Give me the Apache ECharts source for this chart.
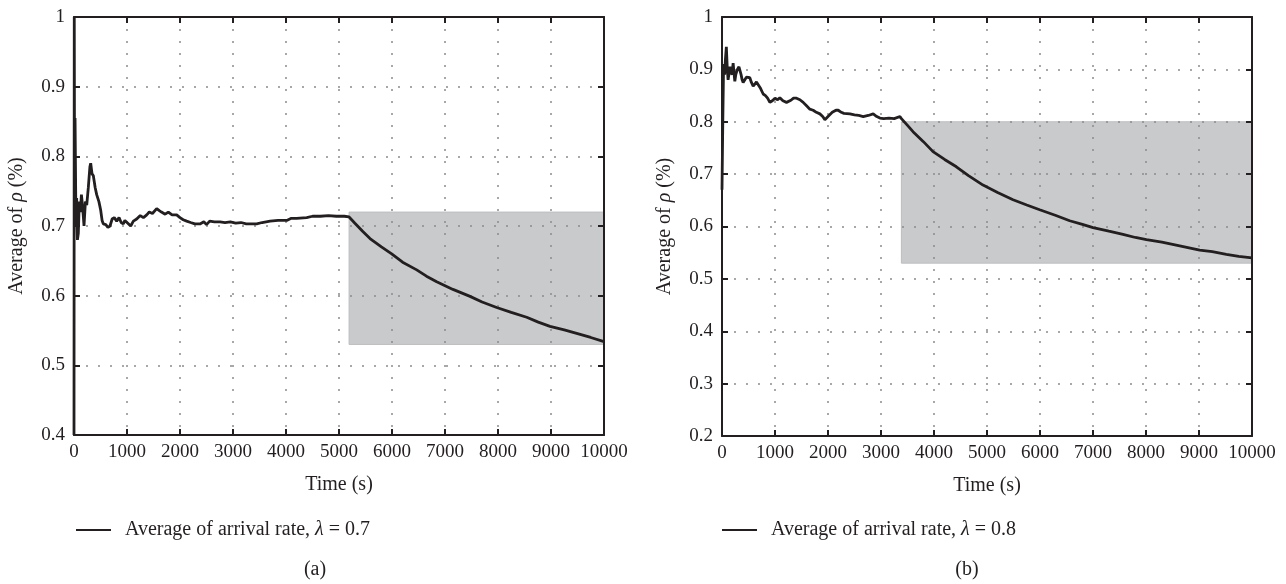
<!DOCTYPE html>
<html>
<head>
<meta charset="utf-8">
<script src="https://cdn.jsdelivr.net/npm/echarts@6/dist/echarts.min.js"></script>
<style>
html,body{margin:0;padding:0;background:#fff;}
#main{width:1286px;height:584px;}
</style>
</head>
<body>
<div id="main"></div>
<script>
// ---- Data ----
const xTicks = [0, 1000, 2000, 3000, 4000, 5000, 6000, 7000, 8000, 9000, 10000];
const yRangeA = [0.4, 1.0];
const yRangeB = [0.2, 1.0];
const nameA = 'Average of arrival rate, λ = 0.7';
const nameB = 'Average of arrival rate, λ = 0.8';
const panelLabels = ['(a)', '(b)'];

// time (s), average rho — panel (a)
const seriesA = [
  [0,0.40],[5,1.0],[12,0.70],[20,0.855],[35,0.72],[50,0.74],[65,0.68],[82,0.69],[100,0.735],[120,0.72],
  [140,0.745],[160,0.73],[189,0.70],[215,0.735],[240,0.73],[270,0.755],[300,0.785],[315,0.79],[340,0.775],
  [365,0.772],[400,0.755],[428,0.745],[470,0.735],[503,0.723],[530,0.708],[553,0.703],[600,0.702],[640,0.698],
  [679,0.70],[720,0.71],[760,0.712],[805,0.707],[850,0.712],[890,0.705],[930,0.703],[960,0.708],[994,0.707],
  [1030,0.703],[1070,0.70],[1120,0.707],[1183,0.71],[1250,0.715],[1310,0.712],[1372,0.716],[1420,0.72],
  [1480,0.718],[1560,0.725],[1610,0.722],[1650,0.72],[1686,0.72],[1720,0.717],[1780,0.72],[1850,0.716],
  [1937,0.716],[2000,0.712],[2060,0.709],[2126,0.707],[2200,0.705],[2280,0.703],[2377,0.703],[2450,0.706],
  [2500,0.702],[2560,0.707],[2650,0.706],[2755,0.706],[2850,0.705],[2950,0.706],[3050,0.704],[3150,0.705],
  [3250,0.703],[3350,0.703],[3447,0.703],[3550,0.705],[3700,0.707],[3850,0.708],[4014,0.708],[4100,0.711],
  [4200,0.711],[4390,0.712],[4500,0.714],[4650,0.714],[4800,0.715],[4950,0.714],[5100,0.714],[5190,0.713],
  [5300,0.704],[5450,0.692],[5585,0.682],[5800,0.670],[5994,0.660],[6200,0.648],[6466,0.637],[6650,0.628],
  [6843,0.620],[7150,0.609],[7472,0.599],[7700,0.591],[7975,0.583],[8250,0.576],[8541,0.569],[8760,0.562],
  [8981,0.556],[9250,0.551],[9484,0.546],[9750,0.540],[10000,0.534]
];
// time (s), average rho — panel (b)
const seriesB = [
  [0,0.67],[15,0.80],[30,0.91],[50,0.89],[65,0.92],[82,0.943],[100,0.90],[115,0.88],[132,0.88],[150,0.905],
  [170,0.895],[190,0.89],[210,0.912],[225,0.895],[242,0.877],[260,0.89],[290,0.90],[320,0.905],[336,0.905],
  [360,0.89],[380,0.88],[399,0.875],[430,0.878],[460,0.885],[490,0.882],[525,0.884],[555,0.875],[588,0.868],
  [620,0.872],[650,0.876],[682,0.875],[720,0.865],[777,0.853],[820,0.85],[860,0.845],[903,0.837],[950,0.84],
  [1000,0.845],[1050,0.842],[1091,0.846],[1150,0.84],[1217,0.837],[1300,0.841],[1350,0.845],[1406,0.845],
  [1470,0.842],[1532,0.837],[1600,0.83],[1658,0.824],[1720,0.822],[1780,0.818],[1847,0.815],[1900,0.81],
  [1941,0.804],[2000,0.81],[2080,0.818],[2150,0.822],[2193,0.822],[2250,0.818],[2300,0.816],[2413,0.815],
  [2500,0.813],[2580,0.812],[2665,0.81],[2760,0.812],[2853,0.815],[2920,0.81],[2979,0.807],[3050,0.806],
  [3150,0.807],[3250,0.806],[3357,0.81],[3385,0.806],[3500,0.793],[3604,0.781],[3800,0.762],[3981,0.743],
  [4200,0.728],[4422,0.714],[4650,0.697],[4925,0.679],[5200,0.665],[5491,0.651],[5750,0.641],[5994,0.632],
  [6300,0.621],[6560,0.611],[6800,0.604],[7000,0.598],[7300,0.591],[7566,0.585],[7800,0.579],[8008,0.575],
  [8300,0.570],[8636,0.563],[9013,0.555],[9250,0.552],[9516,0.547],[9750,0.543],[10000,0.540]
];
// shaded regions: [xStart, xEnd], [yLow, yHigh]
const shadeAX = [5190, 10000], shadeAY = [0.53, 0.72];
const shadeBX = [3385, 10000], shadeBY = [0.53, 0.80];

// ---- Styles ----
const FONT = 'Liberation Serif';
const FS = 19;      // tick labels
const FT = 20;      // titles / legend text
const INK = '#231f20';
const axisLineStyle = {color: INK, width: 2};
const gridDots = {type: [2, 10], color: '#8c8c8c', width: 1.5};

function axesFor(gi, yr, yInterval) {
  const xs = [
    {
      gridIndex: gi, type: 'value', min: xTicks[0], max: xTicks[xTicks.length - 1], interval: 1000,
      position: 'bottom', z: 3,
      axisLine: {onZero: false, lineStyle: axisLineStyle},
      axisTick: {inside: true, length: 6, lineStyle: axisLineStyle},
      axisLabel: {color: INK, fontFamily: FONT, fontSize: FS, margin: 8, formatter: v => String(v)},
      splitLine: {show: true, lineStyle: gridDots},
      name: 'Time (s)', nameLocation: 'middle', nameGap: 40,
      nameTextStyle: {color: INK, fontFamily: FONT, fontSize: FT}
    },
    {
      gridIndex: gi, type: 'value', min: xTicks[0], max: xTicks[xTicks.length - 1], interval: 1000,
      position: 'top', z: 3,
      axisLine: {onZero: false, lineStyle: axisLineStyle},
      axisTick: {inside: true, length: 6, lineStyle: axisLineStyle},
      axisLabel: {show: false}, splitLine: {show: false}
    }
  ];
  const ys = [
    {
      gridIndex: gi, type: 'value', min: yr[0], max: yr[1], interval: yInterval,
      position: 'left', z: 3,
      axisLine: {onZero: false, lineStyle: axisLineStyle},
      axisTick: {inside: true, length: 6, lineStyle: axisLineStyle},
      axisLabel: {color: INK, fontFamily: FONT, fontSize: FS, margin: 9,
        formatter: v => (Math.round(v * 10) / 10).toString()},
      splitLine: {show: true, lineStyle: gridDots},
      name: '{n|Average of }{i|ρ}{n| (%)}', nameLocation: 'middle', nameGap: 47,
      nameTextStyle: {color: INK, fontFamily: FONT, fontSize: FT,
        rich: {n: {fontFamily: FONT, fontSize: FT, color: INK},
               i: {fontFamily: FONT, fontSize: FT, color: INK, fontStyle: 'italic'}}}
    },
    {
      gridIndex: gi, type: 'value', min: yr[0], max: yr[1], interval: yInterval,
      position: 'right', z: 3,
      axisLine: {onZero: false, lineStyle: axisLineStyle},
      axisTick: {inside: true, length: 6, lineStyle: axisLineStyle},
      axisLabel: {show: false}, splitLine: {show: false}
    }
  ];
  return {xs, ys};
}

const aA = axesFor(0, yRangeA, 0.1);
const aB = axesFor(1, yRangeB, 0.1);

function makeSeries(name, data, xi, yi, sx, sy) {
  return {
    name, type: 'line', data, xAxisIndex: xi, yAxisIndex: yi,
    showSymbol: false, symbol: 'none', z: 5,
    lineStyle: {color: INK, width: 2.8}, itemStyle: {color: INK},
    markArea: {
      silent: true, z: 1,
      itemStyle: {color: '#c9cacc', borderColor: '#bdbec0', borderWidth: 1},
      data: [[{coord: [sx[0], sy[1]]}, {coord: [sx[1], sy[0]]}]]
    }
  };
}

const legendText = n => n.replace('λ', '{i|λ}');
function legendFor(name, left) {
  return {
    data: [{name, icon: 'rect'}], left, top: 520, padding: 0, itemWidth: 35, itemHeight: 2,
    formatter: legendText,
    textStyle: {color: INK, fontFamily: FONT, fontSize: FT, padding: [0, 0, 0, 9],
      rich: {i: {fontFamily: FONT, fontSize: FT, color: INK, fontStyle: 'italic'}}}
  };
}

const chart = echarts.init(document.getElementById('main'), null, {renderer: 'canvas'});
chart.setOption({
  animation: false,
  backgroundColor: '#fff',
  grid: [
    {left: 74, top: 17, width: 530, height: 418},
    {left: 722, top: 17, width: 530, height: 419}
  ],
  xAxis: [...aA.xs, ...aB.xs],
  yAxis: [...aA.ys, ...aB.ys],
  legend: [legendFor(nameA, 76), legendFor(nameB, 722)],
  series: [
    makeSeries(nameA, seriesA, 0, 0, shadeAX, shadeAY),
    makeSeries(nameB, seriesB, 2, 2, shadeBX, shadeBY)
  ],
  graphic: [
    {type: 'text', x: 315, y: 570, style: {text: panelLabels[0], fontFamily: FONT, fontSize: FT, fill: INK, textAlign: 'center', textVerticalAlign: 'middle'}},
    {type: 'text', x: 967, y: 570, style: {text: panelLabels[1], fontFamily: FONT, fontSize: FT, fill: INK, textAlign: 'center', textVerticalAlign: 'middle'}}
  ]
});
</script>
</body>
</html>
